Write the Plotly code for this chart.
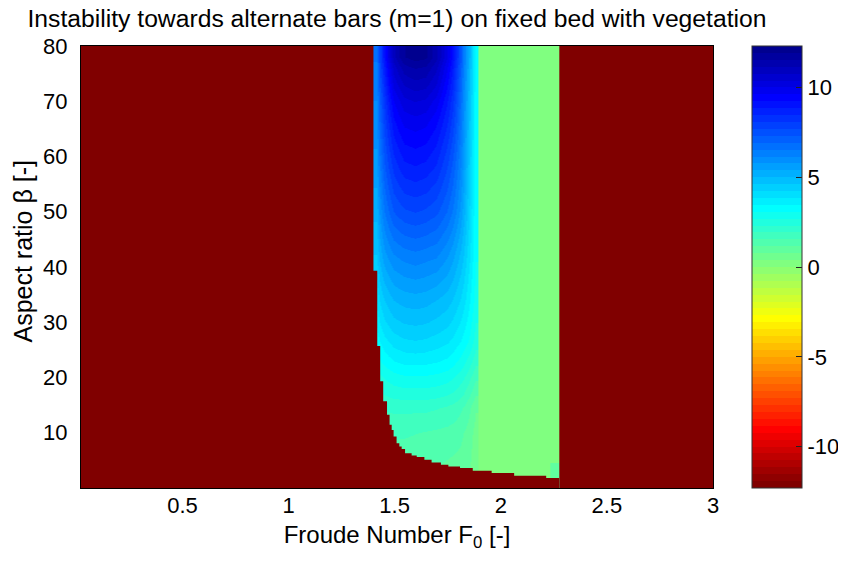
import numpy as np
import plotly.graph_objects as go

# ---------------- data ----------------
F_range = [0.022, 3.0]            # Froude number domain
beta_range = [0.0, 80.0]          # aspect ratio domain
z_limits = [-12.3, 12.3]          # colour axis limits
stable_value = -12.3              # value shown for the stable (no growth) region

# unstable zone 1: growth rate field (cell edges + values)
F_edges_1 = [1.400, 1.430, 1.470, 1.520, 1.570, 1.620, 1.670, 1.720, 1.770,
             1.810, 1.840, 1.865, 1.895]
beta_edges_1 = [2.5, 5, 8, 12, 17, 23, 30, 38, 46, 54, 62, 70, 76, 80]
growth_1 = [
    [1.3, 1.3, 1.3, 1.25, 1.2, 1.2, 1.15, 1.1, 1.05, 0.95, 0.8, 0.5],
    [1.4, 1.4, 1.4, 1.35, 1.3, 1.3, 1.25, 1.2, 1.15, 1.05, 0.85, 0.55],
    [1.6, 1.6, 1.6, 1.6, 1.55, 1.5, 1.45, 1.4, 1.3, 1.15, 0.95, 0.6],
    [1.9, 1.95, 2.0, 2.0, 2.0, 2.0, 1.95, 1.85, 1.7, 1.5, 1.2, 0.8],
    [2.5, 2.7, 2.9, 3.0, 3.0, 3.0, 2.95, 2.85, 2.6, 2.35, 2.0, 1.6],
    [3.2, 3.7, 4.0, 4.15, 4.2, 4.15, 4.05, 3.9, 3.6, 3.3, 3.0, 2.5],
    [3.9, 4.6, 5.0, 5.15, 5.2, 5.15, 5.0, 4.8, 4.4, 4.0, 3.5, 2.9],
    [4.6, 5.6, 6.1, 6.3, 6.4, 6.3, 6.2, 5.8, 5.2, 4.6, 3.9, 3.1],
    [5.1, 6.5, 7.3, 7.6, 7.7, 7.6, 7.4, 6.9, 6.1, 5.2, 4.2, 3.1],
    [5.6, 7.2, 8.2, 8.7, 8.8, 8.7, 8.4, 7.7, 6.7, 5.6, 4.4, 3.1],
    [6.0, 7.8, 9.1, 9.7, 9.8, 9.7, 9.3, 8.5, 7.3, 5.9, 4.6, 3.2],
    [6.3, 8.4, 10.1, 10.8, 11.0, 10.9, 10.4, 9.3, 7.8, 6.2, 4.8, 3.2],
    [6.6, 9.0, 11.0, 11.9, 12.1, 12.0, 11.3, 10.0, 8.3, 6.5, 5.0, 3.2],
]

# unstable zone 2: nearly constant growth rate
F_edges_2 = [1.880, 2.235, 2.275]
beta_edges_2 = [0.0, 4.5, 80.0]
growth_2 = [
    [0.2, 1.0],
    [0.2, 0.2],
]

# lower stability boundary: minimum unstable beta, starting at each F
bnd_F = [1.400, 1.418, 1.432, 1.446, 1.464, 1.476, 1.486, 1.495, 1.509, 1.522,
         1.533, 1.549, 1.580, 1.604, 1.640, 1.674, 1.718, 1.753, 1.808, 1.868,
         1.957, 2.063, 2.214]
bnd_beta = [39.3, 25.7, 19.3, 15.7, 13.25, 11.45, 10.5, 9.3, 8.1, 7.5,
            7.05, 6.3, 5.9, 5.6, 5.1, 4.6, 4.2, 3.9, 3.6, 3.1,
            2.7, 2.2, 1.8]
F_unstable_end = 2.275

x_ticks = [0.5, 1, 1.5, 2, 2.5, 3]
x_ticktext = ["0.5", "1", "1.5", "2", "2.5", "3"]
y_ticks = [10, 20, 30, 40, 50, 60, 70, 80]
cb_ticks = [-10, -5, 0, 5, 10]
cb_ticktext = ["-10", "-5", "0", "5", "10"]

# ---------------- colour map: MATLAB jet(64), flipped ----------------
def jet(n=64):
    m = int(np.ceil(n / 4))
    u = np.concatenate([np.arange(1, m + 1) / m, np.ones(m - 1), np.arange(m, 0, -1) / m])
    g = int(np.ceil(m / 2)) - (1 if n % 4 == 1 else 0) + np.arange(1, len(u) + 1)
    r = g + m
    b = g - m
    J = np.zeros((n, 3))
    for ch, idx in enumerate([r, g, b]):
        for k, val in zip(idx, u):
            if 1 <= k <= n:
                J[k - 1, ch] = val
    return J

J = jet(64)[::-1]
cols = ["rgb(%d,%d,%d)" % tuple(int(round(255 * c)) for c in row) for row in J]
cscale = []
for k, c in enumerate(cols):
    cscale.append([k / 64, c])
    cscale.append([(k + 1) / 64, c])
stable_color = cols[0]

FONT = "Liberation Sans, Arial, sans-serif"
common = dict(colorscale=cscale, zmin=z_limits[0], zmax=z_limits[1], hoverinfo="skip")

# the page body adds an 8 px margin, so the figure is laid out 8 px smaller/shifted
OFF = 8
W, H = 846 - OFF, 562 - OFF
L, T = 81 - OFF, 46 - OFF
R = W - (713 - OFF)
B = H - (488 - OFF)
PW = W - L - R
PH = H - T - B

fig = go.Figure()
fig.add_trace(go.Heatmap(
    x=F_range, y=beta_range, z=[[stable_value]], showscale=True,
    colorbar=dict(
        thickness=50, thicknessmode="pixels", len=1.0, lenmode="fraction",
        x=(752 - 81) / PW, xanchor="left", y=0.5, yanchor="middle",
        xpad=0, ypad=0, outlinewidth=1, outlinecolor="#333",
        ticks="inside", ticklen=6, tickcolor="#222", tickwidth=1,
        tickvals=cb_ticks, ticktext=cb_ticktext,
        tickfont=dict(family=FONT, size=22, color="black"),
    ),
    **common))
# zone 2 drawn first so that zone 1 overlaps the shared edge
fig.add_trace(go.Heatmap(x=F_edges_2, y=beta_edges_2, z=growth_2, zsmooth=False,
                         showscale=False, **common))
fig.add_trace(go.Heatmap(x=F_edges_1, y=beta_edges_1, z=growth_1, zsmooth="best",
                         showscale=False, **common))

# stable region below the boundary curve
poly_x = [F_range[0]] + bnd_F + [F_unstable_end, F_unstable_end, F_range[0]]
poly_y = [bnd_beta[0]] + bnd_beta + [bnd_beta[-1], beta_range[0], beta_range[0]]
fig.add_trace(go.Scatter(x=poly_x, y=poly_y, mode="lines", line=dict(width=0, shape="hv"),
                         fill="toself", fillcolor=stable_color, hoverinfo="skip",
                         showlegend=False))

axis_common = dict(showline=True, mirror=True, linecolor="black", linewidth=1,
                   showgrid=False, zeroline=False, ticks="", automargin=False,
                   tickfont=dict(family=FONT, size=22, color="black"))
fig.update_layout(
    width=W, height=H,
    margin=dict(l=L, r=R, t=T, b=B, autoexpand=False),
    paper_bgcolor="white", plot_bgcolor=stable_color,
    title=dict(text="Instability towards alternate bars (m=1) on fixed bed with vegetation",
               x=((81 + 713) / 2 - OFF) / W, xanchor="center", xref="container",
               y=1 - (18 - OFF) / H, yanchor="middle", yref="container",
               font=dict(family=FONT, size=24.7, color="black")),
    xaxis=dict(range=F_range, tickvals=x_ticks, ticktext=x_ticktext,
               ticklabelstandoff=-2,
               title=dict(text="Froude Number F<sub>0</sub> [-]", standoff=8,
                          font=dict(family=FONT, size=24, color="black")),
               **axis_common),
    yaxis=dict(range=beta_range, tickvals=y_ticks, ticklabelstandoff=8,
               **axis_common),
    annotations=[dict(
        text="Aspect ratio β [-]", textangle=-90, showarrow=False,
        xref="paper", yref="paper",
        x=(22.5 - 81) / PW, y=(488 - 251) / PH, xanchor="center", yanchor="middle",
        font=dict(family=FONT, size=25, color="black"))],
    showlegend=False,
)

fig.write_html("out.html")
